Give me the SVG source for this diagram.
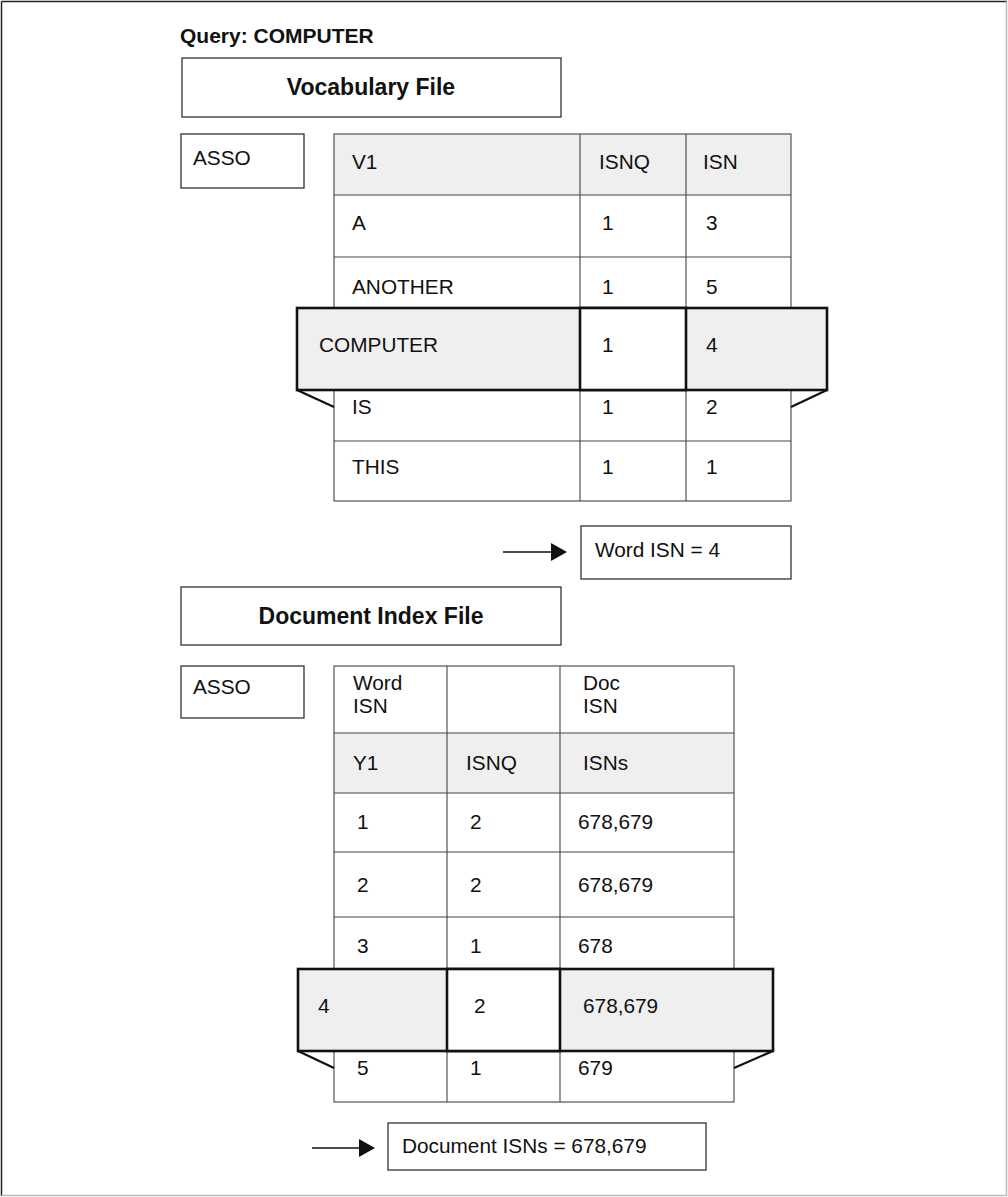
<svg xmlns="http://www.w3.org/2000/svg" width="1008" height="1197" viewBox="0 0 1008 1197">
<style>
text{font-family:"Liberation Sans",Arial,Helvetica,sans-serif;fill:#111}
.t{font-size:20.8px}
.b{font-size:21px;font-weight:bold}
.bt{font-size:23px;font-weight:bold}
.box{fill:#fff;stroke:#333;stroke-width:1.3}
.grid{fill:none;stroke:#444;stroke-width:1.1}
.hdr{fill:#efefef;stroke:none}
.hl{fill:#efefef;stroke:#111;stroke-width:2.6}
.hlw{fill:#fff;stroke:#111;stroke-width:2.6}
.tr{fill:none;stroke:#111;stroke-width:2.2}
.arr{fill:none;stroke:#111;stroke-width:1.5}
</style>
<defs>
<marker id="ah" viewBox="0 0 16 18" refX="0" refY="9" markerWidth="16" markerHeight="18" markerUnits="userSpaceOnUse" orient="auto">
<path d="M0,0 L16,9 L0,18 Z" fill="#111"/>
</marker>
</defs>
<rect width="1008" height="1197" fill="#fff"/>
<g id="frame">
<line x1="1.5" y1="1.5" x2="1.5" y2="1196" stroke="#222" stroke-width="1.5"/>
<line x1="1.5" y1="1.5" x2="1007" y2="1.5" stroke="#222" stroke-width="1.5"/>
<line x1="1006.5" y1="1.5" x2="1006.5" y2="1196" stroke="#bbb" stroke-width="1.5"/>
<line x1="1.5" y1="1195.5" x2="1007" y2="1195.5" stroke="#bbb" stroke-width="1.5"/>
</g>
<g id="title"><text class="b" x="180" y="43">Query: COMPUTER</text></g>
<g id="vocab-file">
<rect class="box" x="182" y="58" width="379" height="59"/>
<text class="bt" x="371" y="95" text-anchor="middle">Vocabulary File</text>
</g>
<g id="asso1">
<rect class="box" x="181" y="134" width="123" height="54"/>
<text class="t" x="193" y="165">ASSO</text>
</g>
<g id="vocab-table">
<rect class="hdr" x="334" y="134" width="457" height="61"/>
<rect class="grid" x="334" y="134" width="457" height="367"/>
<path class="grid" d="M334,195H791M334,257H791M334,441H791M580,134V501M686,134V501"/>
<text class="t" x="352" y="169">V1</text>
<text class="t" x="599" y="169">ISNQ</text>
<text class="t" x="703" y="169">ISN</text>
<text class="t" x="352" y="230">A</text>
<text class="t" x="602" y="230">1</text>
<text class="t" x="706" y="230">3</text>
<text class="t" x="352" y="294">ANOTHER</text>
<text class="t" x="602" y="294">1</text>
<text class="t" x="706" y="294">5</text>
<rect class="hl" x="297" y="308" width="530" height="82"/>
<rect class="hlw" x="580" y="308" width="106" height="82"/>
<path class="tr" d="M297,390L334,407M827,390L791,407"/>
<text class="t" x="319" y="352">COMPUTER</text>
<text class="t" x="602" y="352">1</text>
<text class="t" x="706" y="352">4</text>
<text class="t" x="352" y="414">IS</text>
<text class="t" x="602" y="414">1</text>
<text class="t" x="706" y="414">2</text>
<text class="t" x="352" y="474">THIS</text>
<text class="t" x="602" y="474">1</text>
<text class="t" x="706" y="474">1</text>
</g>
<g id="word-isn">
<rect class="box" x="581" y="526" width="210" height="53"/>
<text class="t" x="595" y="557">Word ISN = 4</text>
</g>
<g id="doc-file">
<rect class="box" x="181" y="587" width="380" height="58"/>
<text class="bt" x="371" y="624" text-anchor="middle">Document Index File</text>
</g>
<g id="asso2">
<rect class="box" x="181" y="666" width="123" height="52"/>
<text class="t" x="193" y="694">ASSO</text>
</g>
<g id="doc-table">
<rect class="hdr" x="334" y="733" width="400" height="60"/>
<rect class="grid" x="334" y="666" width="400" height="436"/>
<path class="grid" d="M334,733H734M334,793H734M334,852H734M334,917H734M447,666V1102M560,666V1102"/>
<text class="t" x="353" y="690">Word</text>
<text class="t" x="353" y="713">ISN</text>
<text class="t" x="583" y="690">Doc</text>
<text class="t" x="583" y="713">ISN</text>
<text class="t" x="353" y="770">Y1</text>
<text class="t" x="466" y="770">ISNQ</text>
<text class="t" x="583" y="770">ISNs</text>
<text class="t" x="357" y="829">1</text>
<text class="t" x="470" y="829">2</text>
<text class="t" x="578" y="829">678,679</text>
<text class="t" x="357" y="892">2</text>
<text class="t" x="470" y="892">2</text>
<text class="t" x="578" y="892">678,679</text>
<text class="t" x="357" y="953">3</text>
<text class="t" x="470" y="953">1</text>
<text class="t" x="578" y="953">678</text>
<rect class="hl" x="298" y="969" width="475" height="82"/>
<rect class="hlw" x="447" y="969" width="113" height="82"/>
<path class="tr" d="M298,1051L334,1068M773,1051L734,1068"/>
<text class="t" x="318" y="1013">4</text>
<text class="t" x="474" y="1013">2</text>
<text class="t" x="583" y="1013">678,679</text>
<text class="t" x="357" y="1075">5</text>
<text class="t" x="470" y="1075">1</text>
<text class="t" x="578" y="1075">679</text>
</g>
<g id="doc-isns">
<rect class="box" x="388" y="1123" width="318" height="47"/>
<text class="t" x="402" y="1153">Document ISNs = 678,679</text>
</g>
<g id="connectors">
<path class="arr" d="M503,552H551" marker-end="url(#ah)"/>
<path class="arr" d="M312,1148H359" marker-end="url(#ah)"/>
</g>
</svg>
